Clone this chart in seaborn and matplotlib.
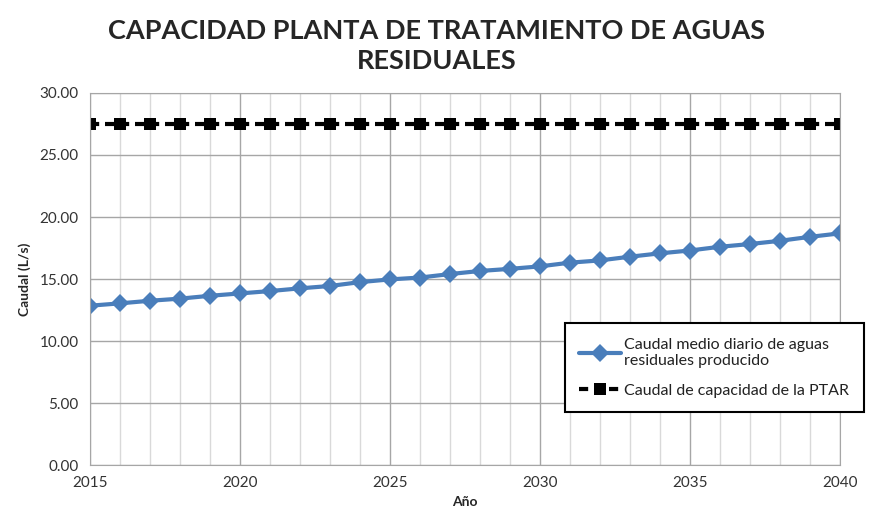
import matplotlib.pyplot as plt
import seaborn as sns
import pandas as pd
from matplotlib.ticker import MultipleLocator, FormatStrFormatter

years = list(range(2015, 2041))
caudal_medio = [12.85, 13.04, 13.25, 13.42, 13.65, 13.84, 14.03, 14.25, 14.44, 14.75,
                14.97, 15.12, 15.40, 15.65, 15.82, 16.02, 16.32, 16.50, 16.80, 17.07,
                17.30, 17.60, 17.82, 18.08, 18.40, 18.68]
capacidad_ptar = [27.5] * len(years)

label_medio = "Caudal medio diario de aguas\nresiduales producido"
label_ptar = "Caudal de capacidad de la PTAR"

df = pd.DataFrame({"Año": years, "medio": caudal_medio, "ptar": capacidad_ptar})

sns.set_style("white")
plt.rcParams["font.family"] = ["Lato", "DejaVu Sans"]

fig = plt.figure(figsize=(8.73, 5.31), dpi=100)
ax = fig.add_axes([0.103, 0.124, 0.859, 0.701])

sns.lineplot(data=df, x="Año", y="medio", ax=ax, color="#4a7ebb", linewidth=3,
             marker="D", markersize=9, markeredgewidth=0, label=label_medio)
sns.lineplot(data=df, x="Año", y="ptar", ax=ax, color="black", linewidth=3,
             linestyle=(0, (2.2, 1.4)), marker="s", markersize=9, markeredgewidth=0,
             label=label_ptar)

ax.set_xlim(2015, 2040)
ax.set_ylim(0, 30)
ax.xaxis.set_major_locator(MultipleLocator(5))
ax.xaxis.set_minor_locator(MultipleLocator(1))
ax.yaxis.set_major_locator(MultipleLocator(5))
ax.yaxis.set_major_formatter(FormatStrFormatter("%.2f"))
ax.grid(which="major", color="#a6a6a6", linewidth=1)
ax.grid(which="minor", axis="x", color="#d9d9d9", linewidth=1)
ax.set_axisbelow(True)
for s in ax.spines.values():
    s.set_color("#a6a6a6")
ax.tick_params(axis="both", which="both", length=0, labelsize=11, colors="#333333", pad=8)

ax.set_xlabel("Año", fontsize=10, fontweight="bold", labelpad=4)
ax.set_ylabel("Caudal (L/s)", fontsize=10, fontweight="bold", labelpad=6)
fig.suptitle("CAPACIDAD PLANTA DE TRATAMIENTO DE AGUAS\nRESIDUALES", fontsize=19.5,
             fontweight="bold", y=0.965, linespacing=1.3)

leg = ax.legend(loc="upper left", bbox_to_anchor=(0.623, 0.403), fontsize=11.5,
                frameon=True, fancybox=False, edgecolor="black", framealpha=1,
                borderpad=0.9, handlelength=2.6, labelspacing=1.0, handletextpad=0.2)
leg.get_frame().set_linewidth(1.5)
for t in leg.get_texts():
    t.set_color("#222222")

fig.savefig("out.png", dpi=100)
